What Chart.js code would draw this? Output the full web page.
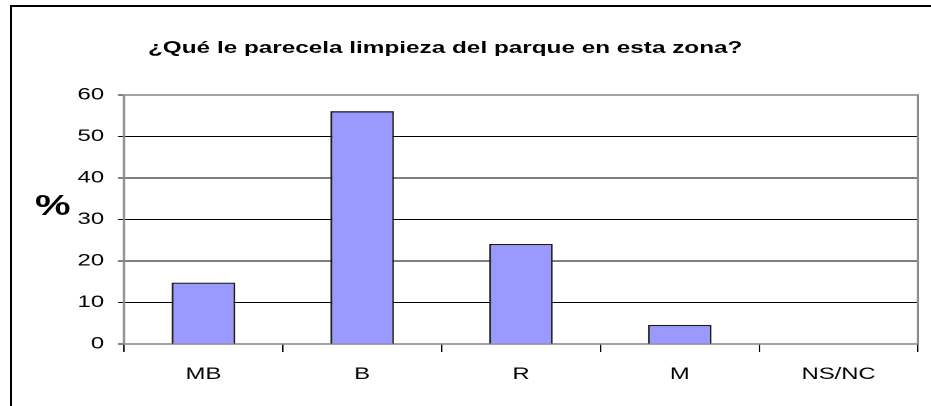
<!DOCTYPE html>
<html>
<head>
<meta charset="utf-8">
<script src="https://cdn.jsdelivr.net/npm/chart.js@4/dist/chart.umd.min.js"></script>
<style>
    body { margin: 0; background: #fff; }
    #wrap { position: relative; width: 931px; height: 406px; overflow: hidden; }
    #frame { position: absolute; left: 10px; top: 5px; width: 960px; height: 460px; border: 2px solid #000; }
    /* the original picture is stretched sideways, so the text is too */
    #title { position: absolute; left: 148px; top: 38px; font: bold 17px "Liberation Sans", Arial, sans-serif; color: #000; white-space: nowrap; transform: scaleX(1.43); transform-origin: 0 0; }
    #ylab { position: absolute; left: 35px; top: 189px; font: bold 29px "Liberation Sans", Arial, sans-serif; color: #000; transform: scaleX(1.38); transform-origin: 0 0; }
    #box { position: absolute; left: 0; top: 0; width: 665px; height: 406px; transform: scaleX(1.4); transform-origin: 0 0; }
</style>
</head>
<body>
<div id="wrap">
    <div id="frame"></div>
    <div id="box"><canvas id="chart"></canvas></div>
    <div id="title">¿Qué le parecela limpieza del parque en esta zona?</div>
    <div id="ylab">%</div>
</div>
<script>
// data
const categories = ["MB", "B", "R", "M", "NS/NC"];
const percents = [14.8, 56.1, 24.1, 4.6, 0];
const yTicks = [0, 10, 20, 30, 40, 50, 60];

// gray frame round the plot area
const plotFrame = {
    id: "plotFrame",
    beforeDatasetsDraw(chart) {
        const a = chart.chartArea;
        const ctx = chart.ctx;
        ctx.save();
        ctx.strokeStyle = "#8c8c8c";
        ctx.lineWidth = 1.6;
        ctx.strokeRect(a.left, a.top, a.right - a.left, a.bottom - a.top);
        ctx.restore();
    }
};

new Chart(document.getElementById("chart"), {
    type: "bar",
    data: {
        labels: categories,
        datasets: [{
            data: percents,
            backgroundColor: "#9999ff",
            borderColor: "#1a1a1a",
            borderWidth: 1.3,
            barPercentage: 0.4,
            categoryPercentage: 1
        }]
    },
    options: {
        responsive: true,
        maintainAspectRatio: false,
        animation: false,
        devicePixelRatio: 2,
        layout: { padding: { left: 0, top: 95, right: 9.3, bottom: 0 } },
        plugins: {
            legend: { display: false },
            tooltip: { enabled: false }
        },
        scales: {
            x: {
                offset: true,
                grid: { offset: true, drawOnChartArea: false, drawTicks: true, tickLength: 8, color: "#000" },
                border: { color: "#000", width: 1 },
                ticks: { color: "#000", padding: 12, font: { family: "Liberation Sans", size: 17 } },
                afterFit(scale) { scale.height = 62; }
            },
            y: {
                min: 0,
                max: 60,
                afterBuildTicks(scale) { scale.ticks = yTicks.map(v => ({ value: v })); },
                grid: { color: "#000", lineWidth: 1, tickLength: 4.3 },
                border: { color: "#000", width: 1 },
                ticks: { color: "#000", padding: 10, font: { family: "Liberation Sans", size: 17 } },
                afterFit(scale) { scale.width = 88.6; }
            }
        }
    },
    plugins: [plotFrame]
});
</script>
</body>
</html>
